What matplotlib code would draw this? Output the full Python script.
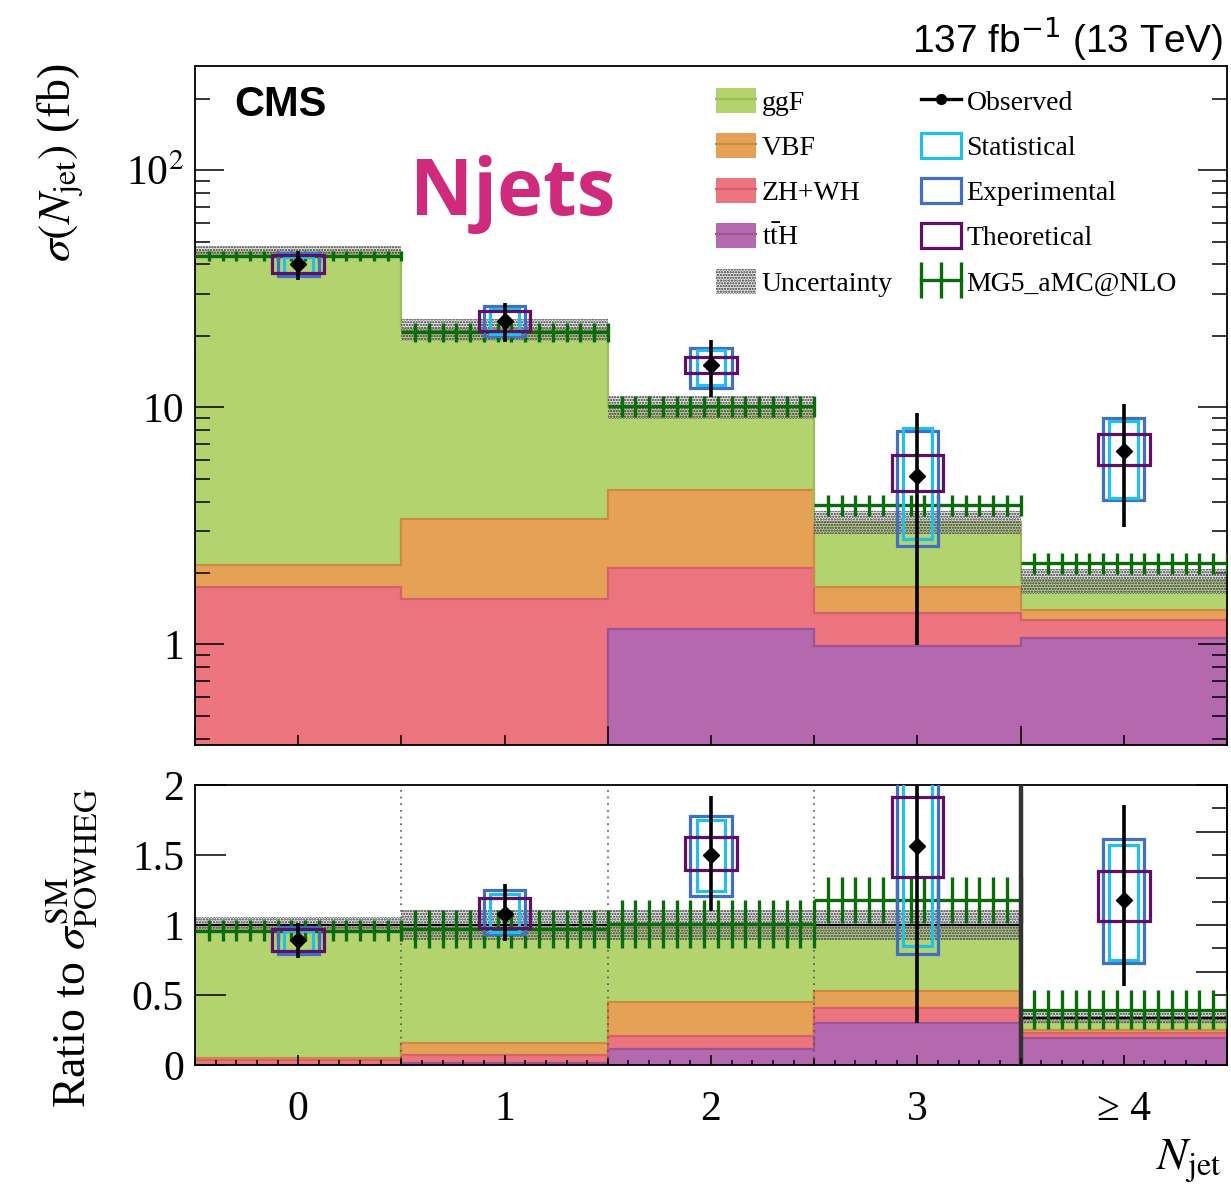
import numpy as np
import matplotlib
matplotlib.use("Agg")
import matplotlib.pyplot as plt
from matplotlib.patches import Rectangle, Patch
from matplotlib.lines import Line2D
from matplotlib.legend_handler import HandlerLine2D, HandlerTuple
from matplotlib.ticker import (FixedLocator, FixedFormatter, NullFormatter,
                               MultipleLocator, LogLocator)

plt.rcParams["font.family"] = ["Liberation Serif", "DejaVu Serif"]
plt.rcParams["mathtext.fontset"] = "stix"
plt.rcParams["hatch.linewidth"] = 1.1

# ---------------------------------------------------------------- data
categories = ["0", "1", "2", "3", "\u2265 4"]

# Predicted cross sections per production mode (fb)
xs_tth = [0.12, 0.35, 1.16, 0.98, 1.06]
xs_vh = [1.62, 1.21, 0.93, 0.37, 0.20]
xs_vbf = [0.41, 1.82, 2.39, 0.40, 0.13]
xs_ggf = [43.05, 17.92, 5.52, 1.54, 0.47]
sm_rel_unc = [0.06, 0.11, 0.11, 0.11, 0.12]

# MG5_aMC@NLO prediction (fb) and relative uncertainties (upper / ratio panel)
xs_mg5 = [43.4, 20.7, 10.1, 3.88, 2.20]
mg5_unc_top = [0.05, 0.09, 0.10, 0.10, 0.10]
mg5_unc_ratio = [0.08, 0.14, 0.17, 0.14, 0.35]

# Observed cross sections (fb) and their uncertainty bounds
obs = [40.3, 23.0, 15.0, 5.14, 6.53]
obs_lo = [34.5, 18.8, 11.0, 0.99, 3.12]
obs_hi = [45.8, 27.5, 19.2, 9.5, 10.3]
stat_lo = [36.8, 20.3, 12.4, 2.79, 4.15]
stat_hi = [43.2, 26.0, 17.5, 8.14, 8.71]
exp_lo = [35.9, 19.95, 12.1, 2.61, 4.06]
exp_hi = [44.7, 26.6, 17.8, 7.95, 8.97]
theo_lo = [36.8, 20.9, 13.9, 4.42, 5.72]
theo_hi = [43.9, 25.4, 16.3, 6.29, 7.70]

# Ratio-panel normalisation per bin (the last bin is shown compressed)
ratio_scale = [1.0, 1.0, 1.0, 1.0, 0.335]

# ---------------------------------------------------------------- styles
C_GGF, E_GGF = "#b3d36f", "#9dbd5c"
C_VBF, E_VBF = "#e5a257", "#cc8a45"
C_VH, E_VH = "#eb747e", "#d4616b"
C_TTH, E_TTH = "#b468ae", "#9c5497"
C_STAT = "#22bfea"
C_EXP = "#3f70c4"
C_THEO = "#5e0f66"
C_MG5 = "#0b6b0b"
C_TEXT_TAG = "#cf2a7b"
BAND_FC = (0.80, 0.80, 0.80, 0.40)
BAND_HC = "#333333"

W, H = 1231, 1188
fig = plt.figure(figsize=(W / 100, H / 100), dpi=100)


def frac_box(x0, y0, x1, y1):
    return [x0 / W, 1 - y1 / H, (x1 - x0) / W, (y1 - y0) / H]


ax = fig.add_axes(frac_box(195, 66, 1227, 745))
axr = fig.add_axes(frac_box(195, 785, 1227, 1065))

edges = np.arange(len(categories) + 1) - 0.5
centers = np.arange(len(categories))
nb = len(categories)

tth = np.array(xs_tth)
vh = np.array(xs_vh)
vbf = np.array(xs_vbf)
ggf = np.array(xs_ggf)
total = tth + vh + vbf + ggf
scale = np.array(ratio_scale)
norm = scale / total  # converts fb into ratio-panel units

layers = [(tth, C_TTH, E_TTH), (vh, C_VH, E_VH),
          (vbf, C_VBF, E_VBF), (ggf, C_GGF, E_GGF)]


def draw_stack(a, factor, floor):
    base = np.full(nb, floor)
    cum = np.zeros(nb)
    for vals, fc, ec in layers:
        cum = cum + vals * factor
        top = np.maximum(cum, floor)
        a.stairs(top, edges, baseline=base, fill=True, color=fc, lw=0, zorder=1)
        a.stairs(top, edges, baseline=None, color=ec, lw=1.6, zorder=1.2)
        base = top


def draw_band(a, centre, rel):
    rel = np.array(rel)
    a.stairs(centre * (1 + rel), edges, baseline=centre * (1 - rel), fill=True,
             facecolor=BAND_FC, edgecolor=BAND_HC, hatch="......", lw=0, zorder=2)


def draw_mg5(a, values, rel):
    for i in range(nb):
        v = values[i]
        a.hlines(v, edges[i], edges[i + 1], color=C_MG5, lw=2.4, zorder=3)
        xs = edges[i] + (edges[i + 1] - edges[i]) * np.arange(1, 16) / 15
        a.vlines(xs, v * (1 - rel[i]), v * (1 + rel[i]), color=C_MG5, lw=2.4, zorder=3)


def draw_obs(a, factor):
    for i in range(nb):
        f = factor[i]
        x = centers[i]
        for lo, hi, wid, col in ((exp_lo, exp_hi, 0.20, C_EXP),
                                 (stat_lo, stat_hi, 0.14, C_STAT),
                                 (theo_lo, theo_hi, 0.25, C_THEO)):
            a.add_patch(Rectangle((x - wid / 2, lo[i] * f), wid, (hi[i] - lo[i]) * f,
                                  fill=False, edgecolor=col, lw=2.3, zorder=4))
        a.vlines(x, obs_lo[i] * f, obs_hi[i] * f, color="k", lw=2.6, zorder=5)
        a.plot(x, obs[i] * f, marker="D", color="k", ms=8, zorder=6)


# ------------------------------------------------------------ upper panel
ax.set_yscale("log")
ax.set_xlim(edges[0], edges[-1])
ax.set_ylim(0.376, 275)
draw_stack(ax, np.ones(nb), 0.3)
draw_band(ax, total, sm_rel_unc)
draw_mg5(ax, np.array(xs_mg5), mg5_unc_top)
draw_obs(ax, np.ones(nb))

ax.yaxis.set_major_locator(FixedLocator([1, 10, 100]))
ax.yaxis.set_major_formatter(FixedFormatter(["1", "10", "10$^{2}$"]))
ax.yaxis.set_minor_locator(LogLocator(base=10, subs=np.arange(2, 10)))
ax.yaxis.set_minor_formatter(NullFormatter())
ax.xaxis.set_major_locator(FixedLocator([-0.5, 1.5, 3.5]))
ax.xaxis.set_minor_locator(MultipleLocator(0.5))
ax.xaxis.set_major_formatter(NullFormatter())
ax.tick_params(axis="y", which="major", direction="in", length=21, width=1.1,
               left=True, right=True, labelsize=30, pad=8)
ax.tick_params(axis="y", which="minor", direction="in", length=11, width=1.1,
               left=True, right=True)
ax.tick_params(axis="x", which="major", direction="in", length=14, width=1.1,
               bottom=True, top=False)
ax.tick_params(axis="x", which="minor", direction="in", length=7, width=1.1,
               bottom=True, top=False)
for s in ax.spines.values():
    s.set_linewidth(1.3)

# ------------------------------------------------------------ ratio panel
axr.set_xlim(edges[0], edges[-1])
axr.set_ylim(0, 2.0)
draw_stack(axr, norm, 0.0)
draw_band(axr, scale, sm_rel_unc)
axr.stairs(scale, edges, baseline=None, color="k", lw=1.6, zorder=2.5)
draw_mg5(axr, np.array(xs_mg5) * norm, mg5_unc_ratio)
draw_obs(axr, norm)
for xe in edges[1:-2]:
    axr.axvline(xe, color="#555555", lw=1.2, ls=(0, (1, 3)), zorder=2.6)
axr.axvline(edges[-2], color="#333333", lw=3.2, zorder=7)

axr.xaxis.set_major_locator(FixedLocator(centers))
axr.xaxis.set_major_formatter(FixedFormatter(categories))
axr.xaxis.set_minor_locator(MultipleLocator(0.1))
axr.yaxis.set_major_locator(FixedLocator([0, 0.5, 1, 1.5, 2]))
axr.yaxis.set_major_formatter(FixedFormatter(["0", "0.5", "1", "1.5", "2"]))
axr.tick_params(axis="y", which="major", direction="in", length=22, width=1.1,
                left=True, right=False, labelsize=30, pad=8)
axr.tick_params(axis="y", which="minor", left=False, right=False)
axr.tick_params(axis="x", which="major", direction="in", length=7, width=1.1,
                top=False, labelsize=30, pad=18)
axr.tick_params(axis="x", which="minor", direction="in", length=3.5, width=1.1,
                top=False)
# longer ticks at the bin boundaries
for xe in edges[1:-1]:
    axr.plot([xe, xe], [0, 0.045], color="k", lw=1.1, zorder=8, clip_on=False)
sec = axr.secondary_yaxis("right")
sec.yaxis.set_major_locator(MultipleLocator(1 / 3))
sec.yaxis.set_minor_locator(MultipleLocator(1 / 6))
sec.yaxis.set_major_formatter(NullFormatter())
sec.tick_params(which="major", direction="in", length=22, width=1.1)
sec.tick_params(which="minor", direction="in", length=11, width=1.1)
for s in list(axr.spines.values()) + list(sec.spines.values()):
    s.set_linewidth(1.3)

# ------------------------------------------------------------ legend
lh = [
    (Patch(facecolor=C_GGF, lw=0), Line2D([], [], color=E_GGF, lw=1.6)),
    (Patch(facecolor=C_VBF, lw=0), Line2D([], [], color=E_VBF, lw=1.6)),
    (Patch(facecolor=C_VH, lw=0), Line2D([], [], color=E_VH, lw=1.6)),
    (Patch(facecolor=C_TTH, lw=0), Line2D([], [], color=E_TTH, lw=1.6)),
    Patch(facecolor=BAND_FC, edgecolor=BAND_HC, hatch="......", lw=0),
    Line2D([], [], color="k", lw=2.4, marker="o", ms=7),
    Patch(facecolor="none", edgecolor=C_STAT, lw=2.3),
    Patch(facecolor="none", edgecolor=C_EXP, lw=2.3),
    Patch(facecolor="none", edgecolor=C_THEO, lw=2.3),
    Line2D([], [], color=C_MG5, lw=2.4, marker="|", ms=26, mew=2.4),
]
labels = ["ggF", "VBF", "ZH+WH", r"t$\bar{\rm t}$H", "Uncertainty",
          "Observed", "Statistical", "Experimental", "Theoretical", "MG5_aMC@NLO"]
leg = ax.legend(lh, labels, ncol=2, loc="upper left",
                bbox_to_anchor=((716 - 195) / 1032, 1 - (88 - 66) / 679),
                frameon=False, fontsize=20, handlelength=1.45, handleheight=1.0,
                labelspacing=0.62, handletextpad=0.2, columnspacing=1.0,
                borderaxespad=0, borderpad=0,
                handler_map={tuple: HandlerTuple(ndivide=1),
                             lh[-1]: HandlerLine2D(numpoints=3, marker_pad=0)})
leg.set_zorder(10)

# ------------------------------------------------------------ annotations
fig.text(234 / W, 1 - 116 / H, "CMS", family="Liberation Sans", weight="bold",
         fontsize=30, ha="left", va="baseline")
fig.text(1223 / W, 1 - 52 / H, "137 fb$^{-1}$ (13 TeV)", family="Liberation Sans",
         fontsize=28, ha="right", va="baseline", math_fontfamily="dejavusans")
fig.text(410 / W, 1 - 215 / H, "Njets", family="Open Sans", weight="bold",
         fontsize=56, color=C_TEXT_TAG, ha="left", va="baseline")

fig.text(60 / W, 1 - 64 / H, r"$\sigma(N_{\mathrm{jet}})$ (fb)", rotation=90,
         fontsize=33, ha="center", va="top")
fig.text(72 / W, 1 - 948 / H, r"Ratio to $\sigma^{\mathrm{SM}}_{\mathrm{POWHEG}}$",
         rotation=90, fontsize=33, ha="center", va="center")
fig.text(1222 / W, 1 - 1160 / H, r"$N_{\mathrm{jet}}$", fontsize=33,
         ha="right", va="center")

fig.savefig("out.png", dpi=100)
